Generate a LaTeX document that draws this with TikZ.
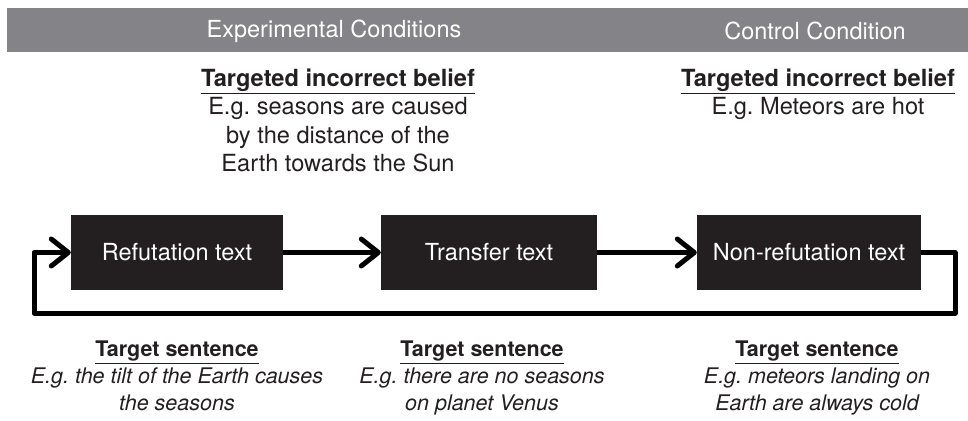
\documentclass[tikz,border=0pt]{standalone}
\usepackage{fontspec}
\setmainfont{TeX Gyre Heros}
\usetikzlibrary{arrows.meta}
\definecolor{barc}{HTML}{848488}
\definecolor{boxc}{HTML}{231F20}
\definecolor{txtc}{HTML}{231F20}
\frenchspacing
\begin{document}
\begin{tikzpicture}[x=1pt,y=-1pt,
  stepbox/.style={fill=boxc, text=white, minimum height=75pt, inner sep=0pt,
    font=\fontsize{23.5}{28}\selectfont},
  conn/.style={line width=5pt, line join=round, black,
    -{Straight Barb[length=17pt,width=27pt,line cap=round,line join=round]}},
  hdr/.style={text=white, inner sep=0pt, font=\fontsize{23.5}{26}\selectfont},
  info/.style={align=center, text=txtc, inner sep=0pt, anchor=north,
    font=\fontsize{23.6}{28.5}\selectfont},
  infob/.style={align=center, text=txtc, inner sep=0pt, anchor=north,
    font=\fontsize{21.5}{27}\selectfont}]
\useasboundingbox (0,0) rectangle (968,420);
\fill[barc] (7,8) rectangle (968,52);
\node[hdr] (hexp) at (334,31) {Experimental Conditions};
\node[hdr] (hctl) at (815,31) {Control Condition};

\node[info] (belief1) at (338,68.5) {\textbf{\underline{Targeted incorrect belief}}\\E.g. seasons are caused\\by the distance of the\\Earth towards the Sun};
\node[info] (belief2) at (818,68.5) {\textbf{\underline{Targeted incorrect belief}}\\E.g. Meteors are hot};

\node[stepbox, minimum width=212pt] (ref) at (177,252.5) {Refutation text};
\node[stepbox, minimum width=216pt] (tra) at (489,252.5) {Transfer text};
\node[stepbox, minimum width=224pt] (non) at (809,252.5) {Non-refutation text};

\draw[conn] (ref) -- (tra);
\draw[conn] (tra) -- (non);
\coordinate (c1) at (955,252.5);
\coordinate (c2) at (955,313);
\coordinate (c3) at (34,313);
\coordinate (c4) at (34,252.5);
\draw[conn] (non.east) -- (c1) -- (c2) -- (c3) -- (c4) -- (ref.west);

\node[infob] (ts1) at (177,341) {\textbf{\underline{Target sentence}}\\\itshape E.g. the tilt of the Earth causes\\\itshape the seasons};
\node[infob] (ts2) at (482,341) {\textbf{\underline{Target sentence}}\\\itshape E.g. there are no seasons\\\itshape on planet Venus};
\node[infob] (ts3) at (817,341) {\textbf{\underline{Target sentence}}\\\itshape E.g. meteors landing on\\\itshape Earth are always cold};
\end{tikzpicture}
\end{document}
